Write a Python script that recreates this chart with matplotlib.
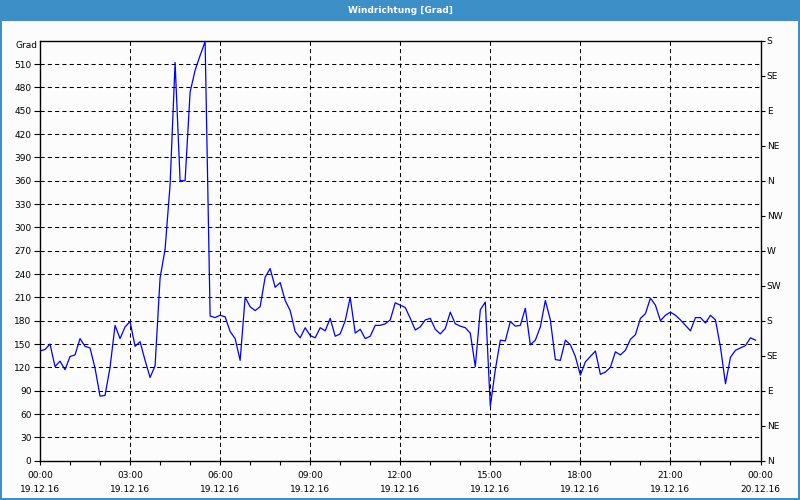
import numpy as np
import matplotlib
matplotlib.use("Agg")
import matplotlib.pyplot as plt
from matplotlib.patches import Rectangle
from matplotlib.ticker import FixedLocator, MultipleLocator

# ---------------- data ----------------
title = "Windrichtung [Grad]"
y_unit = "Grad"
interval_minutes = 10
values = [
    141, 143, 150, 121, 128, 117, 134, 136, 157, 147, 145, 119,   # 00:00-01:50
    83, 84, 120, 174, 157, 172, 179, 147, 153, 129, 107, 122,     # 02:00-03:50
    235, 272, 355, 512, 360, 360, 474, 502, 521, 539, 186, 184,   # 04:00-05:50
    187, 185, 166, 157, 129, 210, 198, 193, 198, 236, 247, 223,   # 06:00-07:50
    229, 206, 193, 166, 158, 171, 161, 158, 171, 167, 183, 160,   # 08:00-09:50
    163, 180, 210, 164, 169, 157, 160, 174, 174, 176, 181, 203,   # 10:00-11:50
    200, 197, 183, 168, 172, 181, 183, 169, 163, 170, 191, 176,   # 12:00-13:50
    173, 171, 164, 121, 194, 204, 70, 117, 155, 154, 179, 173,    # 14:00-15:50
    174, 196, 149, 155, 172, 206, 181, 130, 129, 155, 149, 134,   # 16:00-17:50
    110, 127, 134, 141, 111, 114, 120, 140, 136, 142, 156, 162,   # 18:00-19:50
    183, 189, 209, 200, 180, 187, 191, 187, 181, 174, 167, 184,   # 20:00-21:50
    184, 177, 187, 181, 146, 99, 133, 142, 145, 148, 158, 155,    # 22:00-23:50
]
x_tick_hours = [0, 3, 6, 9, 12, 15, 18, 21, 24]
x_tick_labels = ["00:00\n19.12.16", "03:00\n19.12.16", "06:00\n19.12.16",
                 "09:00\n19.12.16", "12:00\n19.12.16", "15:00\n19.12.16",
                 "18:00\n19.12.16", "21:00\n19.12.16", "00:00\n20.12.16"]
y_ticks = list(range(0, 511, 30))
y_max = 540
compass_ticks = list(range(0, 541, 45))
compass_labels = ["N", "NE", "E", "SE", "S", "SW", "W", "NW",
                  "N", "NE", "E", "SE", "S"]

# ---------------- style ----------------
W, H = 800, 500
bg = "#fbfcfb"
bar_blue = "#3c8fc7"
fs = 6.5
plt.rcParams['font.family'] = ['DejaVu Sans']

fig = plt.figure(figsize=(W / 100, H / 100), dpi=100, facecolor=bg)

# title bar and window border
fig.patches.append(Rectangle((0, 1 - 20.5 / H), 1, 20.5 / H, transform=fig.transFigure,
                             facecolor=bar_blue, edgecolor="none", zorder=0))
fig.patches.append(Rectangle((0, 0), 2 / W, 1, transform=fig.transFigure,
                             facecolor=bar_blue, edgecolor="none", zorder=0))
fig.patches.append(Rectangle((1 - 2 / W, 0), 2 / W, 1, transform=fig.transFigure,
                             facecolor=bar_blue, edgecolor="none", zorder=0))
fig.patches.append(Rectangle((0, 0), 1, 2 / H, transform=fig.transFigure,
                             facecolor=bar_blue, edgecolor="none", zorder=0))
fig.text(0.5, 1 - 10.5 / H, title, ha="center", va="center", color="white",
         fontsize=fs, fontweight="bold")

left_px, right_px, top_px, bottom_px = 40, 760.5, 40.7, 460.7
ax = fig.add_axes([left_px / W, 1 - bottom_px / H, (right_px - left_px) / W,
                   (bottom_px - top_px) / H])
ax.set_facecolor(bg)

hours = np.arange(len(values)) * interval_minutes / 60.0
ax.plot(hours, values, color="#0000ff", lw=0.9, zorder=3)

ax.set_xlim(0, 24)
ax.set_ylim(0, y_max)

ax.xaxis.set_major_locator(FixedLocator(x_tick_hours))
ax.set_xticklabels(x_tick_labels, linespacing=1.75)
ax.xaxis.set_minor_locator(MultipleLocator(1))
ax.yaxis.set_major_locator(FixedLocator(y_ticks))
ax.set_yticklabels([str(v) for v in y_ticks])

ax.tick_params(axis="x", which="major", length=3, width=0.8, pad=4.2,
               labelsize=fs, colors="black", direction="out")
ax.tick_params(axis="x", which="minor", length=3, width=0.8, direction="out")
ax.tick_params(axis="y", which="major", length=4, width=0.8, pad=2.2,
               labelsize=fs, colors="black", direction="out")

for s in ax.spines.values():
    s.set_linewidth(1.0)
    s.set_color("black")

# dashed grid (skip lines that coincide with the frame)
for h in x_tick_hours[1:-1]:
    ax.axvline(h, color="black", lw=0.75, ls=(0, (4, 3)), zorder=1)
for v in y_ticks[1:]:
    ax.axhline(v, color="black", lw=0.75, ls=(0, (4, 3)), zorder=1)

ax2 = ax.twinx()
ax2.set_ylim(0, y_max)
ax2.yaxis.set_major_locator(FixedLocator(compass_ticks))
ax2.set_yticklabels(compass_labels)
ax2.tick_params(axis="y", which="major", length=3, width=0.8, pad=1.5,
                labelsize=fs, colors="black", direction="out")
for s in ax2.spines.values():
    s.set_visible(False)

fig.text((left_px - 2.5) / W, 1 - 45 / H, y_unit, ha="right", va="center",
         fontsize=fs, color="black")

fig.savefig("out.png", dpi=100, facecolor=bg)
